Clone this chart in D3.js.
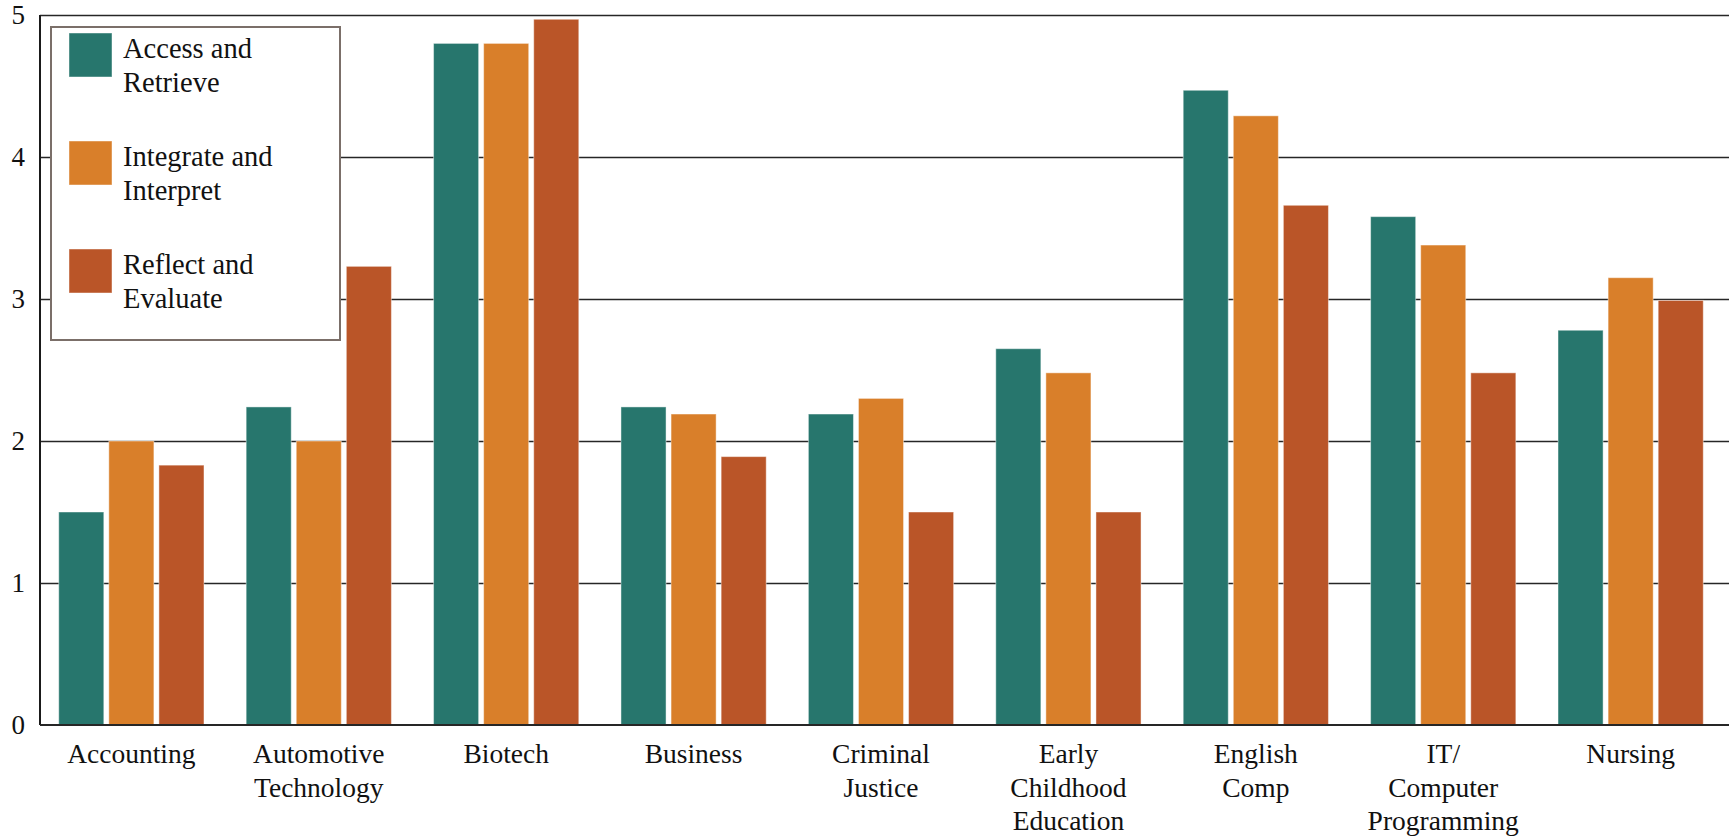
<!DOCTYPE html>
<html>
<head>
<meta charset="utf-8">
<script src="https://cdn.jsdelivr.net/npm/d3@7"></script>
<style>
  html, body { margin: 0; padding: 0; background: #fff; }
  svg text { font-family: "Liberation Serif", "Times New Roman", serif; fill: #111; }
</style>
</head>
<body>
<svg id="chart" width="1733" height="839"></svg>
<script>
// categories (line breaks as in the original axis labels)
const categories = [
  ["Accounting"],
  ["Automotive", "Technology"],
  ["Biotech"],
  ["Business"],
  ["Criminal", "Justice"],
  ["Early", "Childhood", "Education"],
  ["English", "Comp"],
  ["IT/", "Computer", "Programming"],
  ["Nursing"]
]

const seriesNames = [
  ["Access and", "Retrieve"],
  ["Integrate and", "Interpret"],
  ["Reflect and", "Evaluate"]
]

const accessRetrieve   = [1.5, 2.24, 4.8, 2.24, 2.19, 2.65, 4.47, 3.58, 2.78]
const integrateInterp  = [2.0, 2.0, 4.8, 2.19, 2.3, 2.48, 4.29, 3.38, 3.15]
const reflectEvaluate  = [1.83, 3.23, 4.97, 1.89, 1.5, 1.5, 3.66, 2.48, 2.99]

const yTicks = [0, 1, 2, 3, 4, 5]

const colors = ["#27766d", "#d97f2a", "#ba5528"]

const series = [accessRetrieve, integrateInterp, reflectEvaluate]

const svg = d3.select("#chart")
const margin = {top: 15, right: 4, bottom: 114, left: 40}
const width = 1733 - margin.left - margin.right
const height = 839 - margin.top - margin.bottom

const g = svg.append("g")
  .attr("transform", `translate(${margin.left},${margin.top})`)

const x0 = d3.scaleBand()
  .domain(d3.range(categories.length))
  .range([0, width - 7])
  .paddingInner(0.225)
  .paddingOuter(0.1)

const x1 = d3.scaleBand()
  .domain(d3.range(series.length))
  .range([0, x0.bandwidth()])
  .paddingInner(0.1)

const y = d3.scaleLinear()
  .domain([0, 5])
  .range([height, 0])

// gridlines
g.append("g")
  .attr("class", "grid")
  .selectAll("line")
  .data(yTicks.filter(d => d > 0))
  .enter().append("line")
    .attr("x1", 0)
    .attr("x2", width)
    .attr("y1", d => Math.round(y(d)) + 0.5)
    .attr("y2", d => Math.round(y(d)) + 0.5)
    .attr("stroke", "#262626")
    .attr("stroke-width", 1.6)

// y tick labels
const yAxis = g.append("g")
  .call(d3.axisLeft(y).tickValues(yTicks).tickSize(0).tickPadding(15).tickFormat(d3.format("d")))
yAxis.select(".domain").remove()
yAxis.selectAll("text")
  .attr("font-family", null)
  .style("font-size", "27px")

// bars
const groups = g.append("g")
  .selectAll("g")
  .data(categories)
  .enter().append("g")
    .attr("transform", (d, i) => `translate(${x0(i)},0)`)

groups.selectAll("rect")
  .data((d, i) => series.map((s, k) => ({k: k, v: s[i]})))
  .enter().append("rect")
    .attr("x", d => x1(d.k))
    .attr("y", d => y(d.v))
    .attr("width", x1.bandwidth())
    .attr("height", d => height - y(d.v))
    .attr("fill", d => colors[d.k])
    .attr("stroke", "rgba(255,255,255,0.45)")
    .attr("stroke-width", 1)

// axis lines
g.append("line")
  .attr("x1", 0).attr("x2", 0)
  .attr("y1", y(5)).attr("y2", height)
  .attr("stroke", "#1a1a1a").attr("stroke-width", 2)
g.append("line")
  .attr("x1", 0).attr("x2", width)
  .attr("y1", height).attr("y2", height)
  .attr("stroke", "#262626").attr("stroke-width", 2)

// category labels
const labels = g.append("g").attr("class", "labels")
labels.selectAll("text")
  .data(categories)
  .enter().append("text")
    .attr("x", (d, i) => x0(i) + x0.bandwidth() / 2)
    .attr("y", height + 38)
    .style("text-anchor", "middle")
    .style("font-size", "27.5px")
    .each(function (d) {
      d3.select(this).selectAll("tspan")
        .data(d)
        .enter().append("tspan")
          .attr("x", d3.select(this).attr("x"))
          .attr("dy", (t, j) => j === 0 ? 0 : 33.5)
          .text(t => t)
    })

// legend
const legend = svg.append("g").attr("class", "legend")
legend.append("rect")
  .attr("x", 51).attr("y", 27)
  .attr("width", 289).attr("height", 313)
  .attr("fill", "#fff")
  .attr("stroke", "#7b6f69")
  .attr("stroke-width", 2)

const items = legend.selectAll(".item")
  .data(seriesNames)
  .enter().append("g")
    .attr("class", "item")
    .attr("transform", (d, i) => `translate(69,${33 + i * 108})`)

items.append("rect")
  .attr("width", 43).attr("height", 44)
  .attr("fill", (d, i) => colors[i])
  .attr("stroke", "rgba(255,255,255,0.45)")

items.append("text")
  .attr("x", 54)
  .attr("y", 25)
  .style("font-size", "28.5px")
  .selectAll("tspan")
  .data(d => d)
  .enter().append("tspan")
    .attr("x", 54)
    .attr("dy", (t, j) => j === 0 ? 0 : 33.5)
    .text(t => t)
</script>
</body>
</html>
